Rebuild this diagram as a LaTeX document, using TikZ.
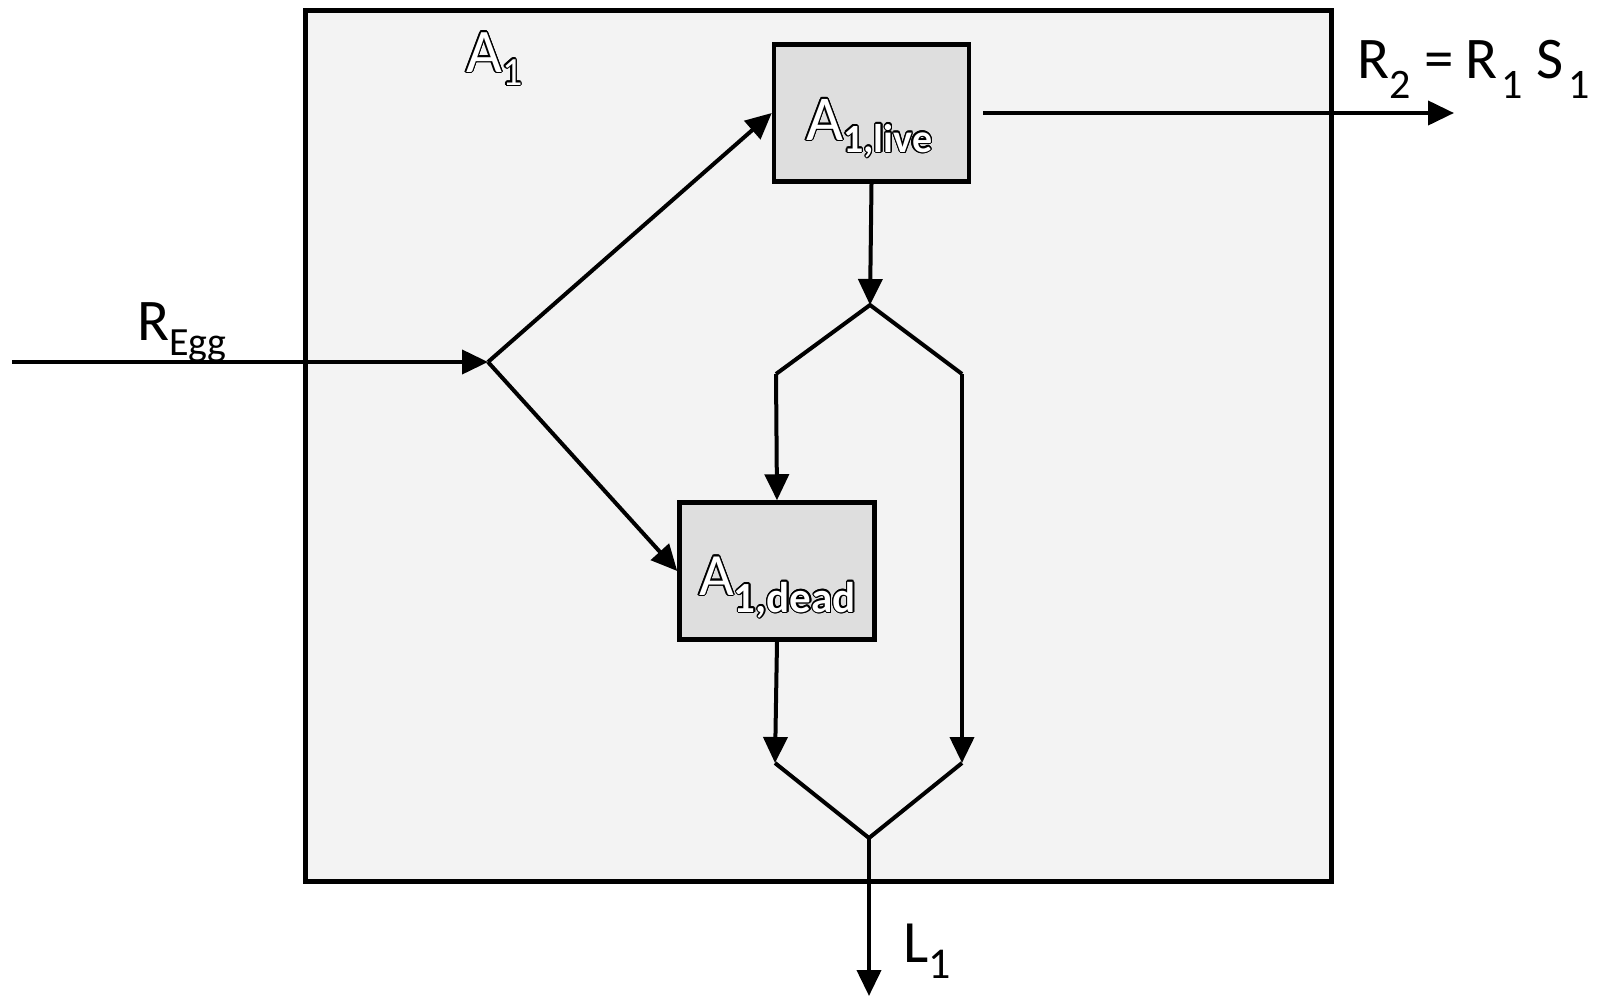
\documentclass[tikz,border=0pt]{standalone}
\usepackage{fontspec}
\setmainfont{Carlito}
\usepackage{contour}
\contourlength{1.3pt}
\usetikzlibrary{arrows.meta}
\definecolor{outerfill}{RGB}{243,243,243}
\definecolor{innerfill}{RGB}{222,222,222}
\newcommand{\outl}[1]{\textcolor{white}{\contour{black}{#1}}}
\newcommand{\fs}[1]{\fontsize{#1}{#1}\selectfont}
\newcommand{\rsub}[1]{\raisebox{-20pt}{\fs{42}#1}}
\tikzset{
  outerbox/.style={draw, fill=outerfill, line width=4.5pt, inner sep=0pt},
  statebox/.style={draw, fill=innerfill, line width=4.5pt, inner sep=0pt, minimum width=195pt, minimum height=137pt},
  flow/.style={line width=4pt},
  flowarrow/.style={line width=4pt, -{Triangle[length=26pt,width=24pt]}},
  lbl/.style={anchor=base west, inner sep=0pt, text=black}
}
\begin{document}
\begin{tikzpicture}[x=1pt,y=-1pt]
\useasboundingbox (0,0) rectangle (1606,999);
\node[outerbox, minimum width=1026pt, minimum height=871pt, anchor=north west] (outer) at (303,8) {};
\node[statebox] (live) at (871.5,113) {};
\node[statebox] (dead) at (777,571) {};
% coordinates
\coordinate (in) at (12,362);
\coordinate (j1) at (488,362);
\coordinate (out) at (1454,113);
\coordinate (s) at (870,305);
\coordinate (sl) at (776,374);
\coordinate (sr) at (962,374);
\coordinate (ml) at (775,763);
\coordinate (mr) at (962,763);
\coordinate (m) at (869,838);
\coordinate (bot) at (869,996);
% connectors
\draw[flowarrow] (in) -- (j1);
\draw[flowarrow] (j1) -- (live.west);
\draw[flowarrow] (j1) -- (dead.west);
\draw[flowarrow, shorten <=12pt] (live.east) -- (out);
\draw[flowarrow] (live.south) -- (s);
\draw[flow] (sl) -- (s) -- (sr);
\draw[flowarrow] (sl) -- (dead.north);
\draw[flowarrow] (sr) -- (mr);
\draw[flowarrow] (dead.south) -- (ml);
\draw[flow] (ml) -- (m) -- (mr);
\draw[flowarrow] (m) -- (bot);
% labels
\node[lbl] (lA1) at (466,72) {\fs{62}\outl{A}\raisebox{-13pt}{\fs{40}\outl{1}}};
\node[lbl] (lLive) at (806,140) {\fs{64}\outl{A}\raisebox{-12pt}{\fs{40}\bfseries\outl{1,live}}};
\node[lbl] (lDead) at (699,595) {\fs{60}\outl{A}\raisebox{-17pt}{\fs{43}\bfseries\outl{1,dead}}};
\node[lbl] (lEgg) at (137,340) {\fs{59}R\raisebox{-15pt}{\fs{40}Egg}};
\node[lbl] (lR2) at (1357,78) {\fs{59}R\rsub{2}\hspace{14pt}=\hspace{12pt}R\hspace{4pt}\rsub{1}\hspace{13pt}S\hspace{5pt}\rsub{1}};
\node[lbl] (lL1) at (903,962) {\fs{60}L\raisebox{-16pt}{\fs{44}1}};
\end{tikzpicture}
\end{document}
